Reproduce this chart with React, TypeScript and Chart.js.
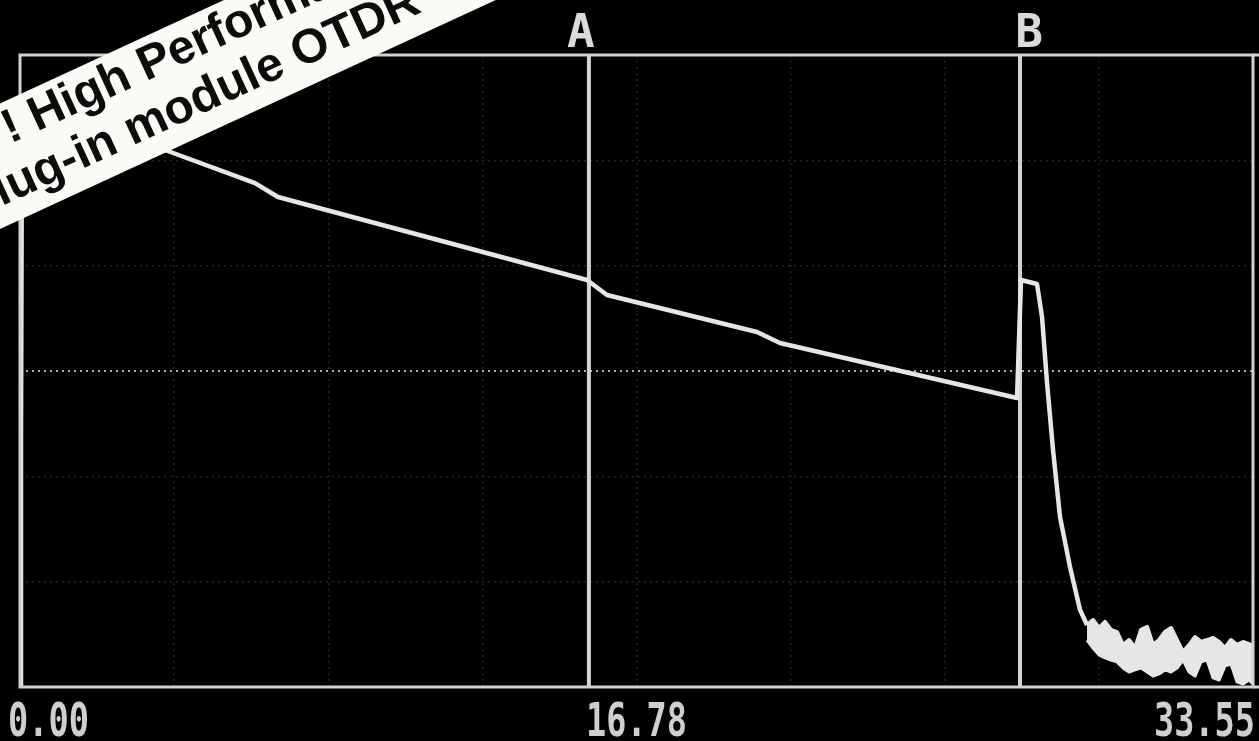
import React, { useEffect, useRef } from "react";
import { Chart, registerables } from "chart.js";

Chart.register(...registerables);

// OTDR trace: distance (km) and level (dB)
const traceKm = [0, 0.027, 0.054, 3.946, 6.395, 7.02, 15.429, 15.973, 20.054, 20.68, 27.129, 27.238, 27.673, 27.81, 27.946, 28.109, 28.299, 28.571, 28.844, 29.034];
const traceDb = [0, 11.72, 27.63, 25.49, 23.92, 23.26, 19.32, 18.61, 16.85, 16.33, 13.72, 19.32, 19.13, 17.56, 14.43, 11.25, 8.07, 5.7, 3.66, 2.94];

// noise floor after the fibre end: upper and lower envelope of the noisy trace
const noiseKm = [29.034, 29.197, 29.361, 29.524, 29.687, 29.85, 30.014, 30.177, 30.34, 30.503, 30.667, 30.83, 30.993, 31.156, 31.32, 31.483, 31.646, 31.81, 31.973, 32.136, 32.299, 32.463, 32.626, 32.789, 32.952, 33.116, 33.279, 33.442, 33.55];
const noiseTopDb = [2.94, 3.18, 2.8, 3.09, 2.71, 2.61, 1.99, 2.23, 1.85, 2.71, 2.85, 1.99, 2.23, 2.61, 2.8, 2.23, 1.66, 1.99, 2.37, 2.14, 2.23, 2.33, 2.14, 1.85, 2.23, 1.99, 2.14, 2.04, 1.95];
const noiseLowDb = [2.23, 1.85, 1.52, 1.38, 1.28, 1.19, 0.9, 0.71, 0.81, 0.9, 0.71, 0.52, 0.62, 0.81, 0.71, 0.9, 1.28, 0.71, 0.52, 1.19, 1.28, 0.43, 0.33, 1.0, 1.09, 0.24, 0.14, 0.33, 0.14];

const cursorKm = [15.48, 27.21];
const cursorLabels = ["A", "B"];

const axisLabelKm = [0, 16.775, 33.55];
const axisLabels = ["0.00", "16.78", "33.55"];

const gridKm = [0, 4.194, 8.388, 12.581, 16.775, 20.969, 25.163, 29.356, 33.55];
const gridDb = [0, 5, 10, 15, 20, 25, 30];

const bannerLines = ["! High Performance", "Plug-in module OTDR"];

export default function App() {
  const canvasRef = useRef<HTMLCanvasElement | null>(null);

  useEffect(() => {
    document.body.style.margin = "0";
    document.body.style.background = "#000";
    const canvas = canvasRef.current;
    if (!canvas) return;

    const tracePoints = traceKm.map((x, i) => ({ x, y: traceDb[i] }));
    const topPoints = noiseKm.map((x, i) => ({ x, y: noiseTopDb[i] }));
    const lowPoints = noiseKm.map((x, i) => ({ x, y: noiseLowDb[i] }));
    const cursorSets = cursorKm.map((k) => ({
      data: [
        { x: k, y: 0 },
        { x: k, y: 30 },
      ],
      borderColor: "#d4d4d4",
      borderWidth: 4,
      pointRadius: 0,
      tension: 0,
      fill: false,
    }));

    const overlay = {
      id: "otdrOverlay",
      afterDraw(chart: any) {
        const ctx = chart.ctx as CanvasRenderingContext2D;
        const a = chart.chartArea;
        const xs = chart.scales.x;
        ctx.save();
        // frame
        ctx.strokeStyle = "#d2d2d2";
        ctx.lineWidth = 3;
        ctx.strokeRect(a.left, a.top, a.right - a.left, a.bottom - a.top);
        ctx.beginPath();
        ctx.moveTo(a.right, a.top);
        ctx.lineTo(chart.width, a.top);
        ctx.moveTo(a.right, a.bottom);
        ctx.lineTo(chart.width, a.bottom);
        ctx.stroke();

        // distance labels
        ctx.fillStyle = "#cfcfcf";
        ctx.font = 'bold 46px "DejaVu Sans Mono"';
        ctx.textBaseline = "alphabetic";
        axisLabels.forEach((lab, i) => {
          const px = xs.getPixelForValue(axisLabelKm[i]);
          ctx.save();
          if (i === 0) {
            ctx.translate(px - 12, 736);
            ctx.textAlign = "left";
          } else if (i === axisLabels.length - 1) {
            ctx.translate(px + 2, 736);
            ctx.textAlign = "right";
          } else {
            ctx.translate(px, 736);
            ctx.textAlign = "center";
          }
          ctx.scale(0.73, 1);
          ctx.fillText(lab, 0, 0);
          ctx.restore();
        });

        // cursor labels
        ctx.fillStyle = "#dadada";
        ctx.font = 'bold 46px "DejaVu Sans Mono"';
        ctx.textAlign = "center";
        cursorLabels.forEach((lab, i) => {
          const px = xs.getPixelForValue(cursorKm[i]);
          const off = i === 0 ? -8 : 9;
          ctx.fillText(lab, px + off, 47);
        });

        // banner
        const theta = Math.atan(0.462);
        ctx.translate(0, 207);
        ctx.rotate(-theta);
        ctx.fillStyle = "#fbfbf6";
        ctx.fillRect(-200, -94, 1000, 114);
        ctx.fillStyle = "#0c0c0c";
        ctx.font = 'bold 48px "Liberation Sans"';
        ctx.textAlign = "left";
        ctx.fillText(bannerLines[0], 36, -53);
        ctx.fillText(bannerLines[1], -30, 0);
        ctx.restore();
      },
    };

    const faint = "rgba(140,140,140,0.25)";
    const chart = new Chart(canvas, {
      type: "line",
      data: {
        datasets: [
          {
            data: tracePoints,
            borderColor: "#e6e6e6",
            borderWidth: 4.5,
            pointRadius: 0,
            tension: 0,
            borderJoinStyle: "round",
            fill: false,
          } as any,
          {
            data: topPoints,
            borderColor: "#e6e6e6",
            borderWidth: 4,
            pointRadius: 0,
            tension: 0,
            borderJoinStyle: "round",
            fill: false,
          } as any,
          {
            data: lowPoints,
            borderColor: "#e6e6e6",
            borderWidth: 3,
            pointRadius: 0,
            tension: 0,
            borderJoinStyle: "round",
            backgroundColor: "#e6e6e6",
            fill: "-1",
          } as any,
          ...(cursorSets as any[]),
        ],
      },
      options: {
        animation: false,
        responsive: true,
        maintainAspectRatio: false,
        devicePixelRatio: 1,
        layout: { padding: { left: 20, right: 6, top: 55, bottom: 54 } },
        plugins: { legend: { display: false }, tooltip: { enabled: false } },
        events: [],
        scales: {
          x: {
            type: "linear",
            min: 0,
            max: 33.55,
            afterBuildTicks: (scale: any) => {
              scale.ticks = gridKm.map((v) => ({ value: v }));
            },
            ticks: { display: false },
            grid: { color: faint, lineWidth: 1.5, drawTicks: false },
            border: { display: false, dash: [2, 4] },
          },
          y: {
            type: "linear",
            min: 0,
            max: 30,
            afterBuildTicks: (scale: any) => {
              scale.ticks = gridDb.map((v) => ({ value: v }));
            },
            ticks: { display: false },
            grid: {
              color: (c: any) => (c.tick && c.tick.value === 15 ? "rgba(215,215,215,0.8)" : faint),
              lineWidth: (c: any) => (c.tick && c.tick.value === 15 ? 2 : 1.5),
              drawTicks: false,
            },
            border: { display: false, dash: [2, 4] },
          },
        },
      },
      plugins: [overlay],
    } as any);

    return () => chart.destroy();
  }, []);

  return (
    <div style={{ position: "fixed", left: 0, top: 0, width: 1259, height: 741, background: "#000" }}>
      <canvas ref={canvasRef} />
    </div>
  );
}
